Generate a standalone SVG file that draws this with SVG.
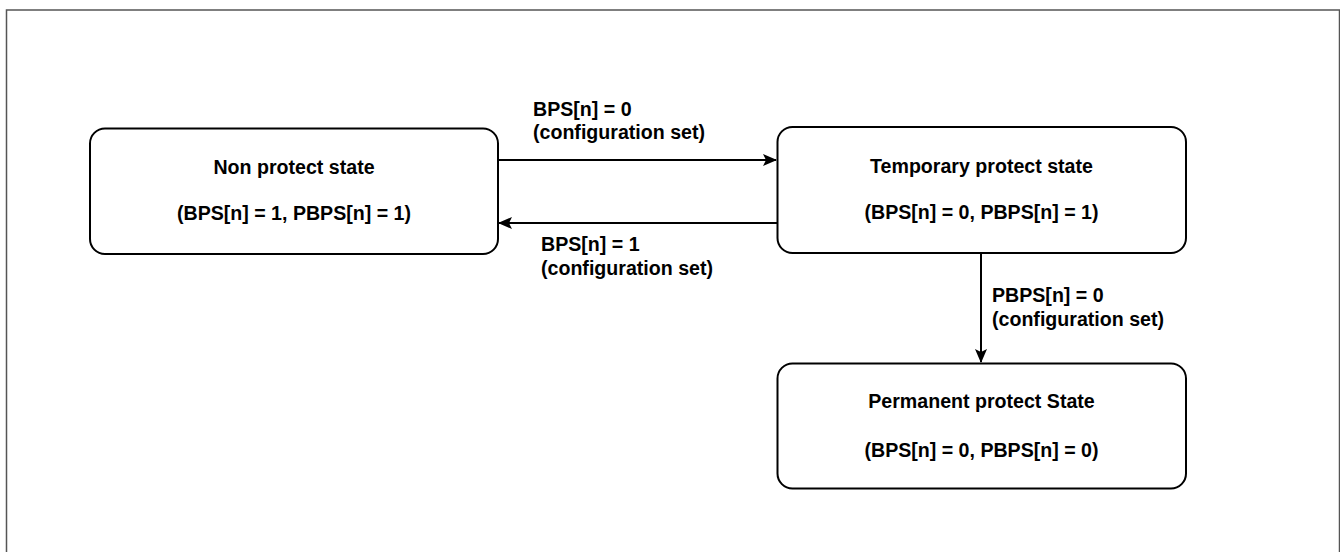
<svg xmlns="http://www.w3.org/2000/svg" width="1340" height="552" viewBox="0 0 1340 552">
<defs>
<style>
.node{fill:#ffffff;stroke:#000000;stroke-width:2}
.t{font-family:"Liberation Sans",Arial,sans-serif;font-weight:bold;font-size:19.6px;fill:#000000}
.c{text-anchor:middle}
.edge{fill:none;stroke:#000000;stroke-width:2}
</style>
<marker id="arr" viewBox="0 0 14 12" refX="13" refY="6" markerWidth="14" markerHeight="12" markerUnits="userSpaceOnUse" orient="auto">
<path d="M0,0 L14,6 L0,12 L3,6 Z" fill="#000000"/>
</marker>
</defs>
<rect width="1340" height="552" fill="#ffffff"/>
<rect id="frame" x="6.5" y="10" width="1333" height="560" fill="none" stroke="#555555" stroke-width="1.5"/>
<g id="connectors">
<line class="edge" x1="498" y1="160" x2="776" y2="160" marker-end="url(#arr)"/>
<line class="edge" x1="777" y1="223" x2="499" y2="223" marker-end="url(#arr)"/>
<line class="edge" x1="981" y1="253" x2="981" y2="362" marker-end="url(#arr)"/>
<text class="t" x="533" y="116">BPS[n] = 0</text>
<text class="t" x="533" y="139">(configuration set)</text>
<text class="t" x="541" y="251">BPS[n] = 1</text>
<text class="t" x="541" y="275">(configuration set)</text>
<text class="t" x="992" y="302">PBPS[n] = 0</text>
<text class="t" x="992" y="326">(configuration set)</text>
</g>
<g id="node-non-protect">
<rect class="node" x="90" y="128.5" width="408" height="125.5" rx="15" ry="15"/>
<text class="t c" x="294" y="174">Non protect state</text>
<text class="t c" x="294" y="220">(BPS[n] = 1, PBPS[n] = 1)</text>
</g>
<g id="node-temporary">
<rect class="node" x="777.5" y="127" width="408.5" height="126" rx="15" ry="15"/>
<text class="t c" x="981.5" y="172.5">Temporary protect state</text>
<text class="t c" x="981.5" y="219">(BPS[n] = 0, PBPS[n] = 1)</text>
</g>
<g id="node-permanent">
<rect class="node" x="777.5" y="363.5" width="408.5" height="125" rx="15" ry="15"/>
<text class="t c" x="981.5" y="408">Permanent protect State</text>
<text class="t c" x="981.5" y="456.5">(BPS[n] = 0, PBPS[n] = 0)</text>
</g>
</svg>
